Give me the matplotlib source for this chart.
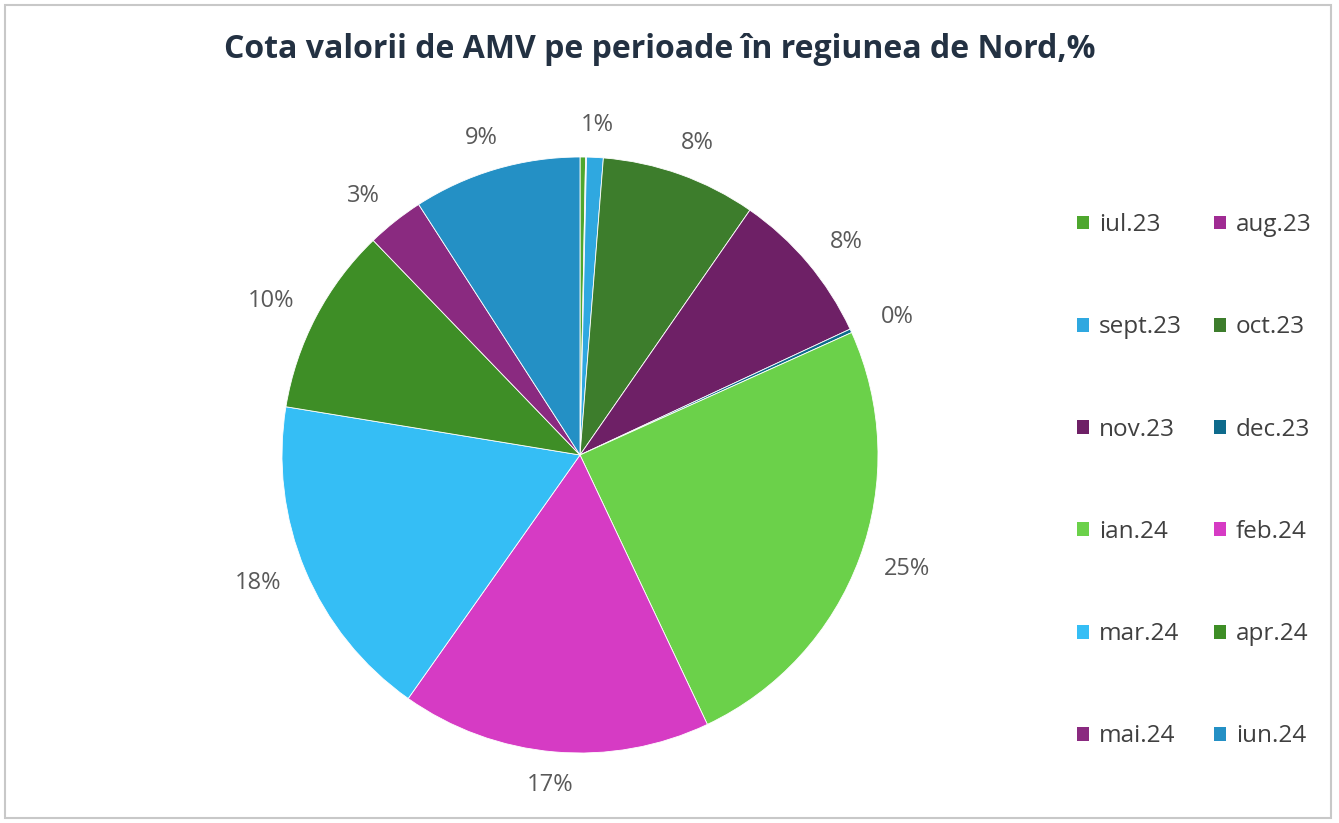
import numpy as np
import matplotlib
matplotlib.use('Agg')
import matplotlib.pyplot as plt
from matplotlib.patches import Rectangle, Patch

plt.rcParams['font.family'] = ['Open Sans', 'DejaVu Sans']

months = ['iul.23', 'aug.23', 'sept.23', 'oct.23', 'nov.23', 'dec.23',
          'ian.24', 'feb.24', 'mar.24', 'apr.24', 'mai.24', 'iun.24']
shares = [0.3, 0.05, 0.9, 8.4, 8.4, 0.2, 24.7, 16.8, 17.8, 10.2, 3.1, 9.1]
hidden = ['iul.23', 'aug.23']   # labels not shown in the original
colors = ['#4EA72E', '#A02B93', '#2FA8E0', '#3D7D2C', '#6E2066', '#0E6B8C',
          '#6BD14A', '#D63BC4', '#35BEF5', '#3E8E26', '#8A2A80', '#2490C5']

fig = plt.figure(figsize=(13.39, 8.23), dpi=100)

# frame around the chart
fig.patches.append(Rectangle((0.004, 0.006), 0.99, 0.988, transform=fig.transFigure,
                             fill=False, edgecolor='#C8C8C8', linewidth=1.5))

fig.text(0.493, 0.940, 'Cota valorii de AMV pe perioade în regiunea de Nord,%',
         ha='center', va='center', fontsize=23, fontweight='bold', color='#233142')

W, H = 1339., 823.
cx, cy, r = 580., 455., 298.
ax = fig.add_axes([(cx - r) / W, (H - cy - r) / H, 2 * r / W, 2 * r / H])
wedges, _ = ax.pie(shares, colors=colors, startangle=90, counterclock=False,
                   radius=1.0, wedgeprops=dict(edgecolor='white', linewidth=0.6))
ax.set_xlim(-1, 1)
ax.set_ylim(-1, 1)
ax.axis('off')

# data labels: box edge sits just outside the pie
total = sum(shares)
for w, m, v in zip(wedges, months, shares):
    if m in hidden:
        continue
    ang = np.deg2rad((w.theta1 + w.theta2) / 2.)
    x = (1.08 + 0.09) * np.cos(ang)
    y = (1.08 + 0.03) * np.sin(ang)
    ax.text(x, y, '{:.0f}%'.format(v / total * 100),
            ha='center', va='center', fontsize=17, color='#595959', clip_on=False)

# legend, row-wise order in two columns
handles = [Patch(facecolor=c, edgecolor='none') for c in colors]
order = list(range(0, 12, 2)) + list(range(1, 12, 2))
leg = fig.legend([handles[i] for i in order], [months[i] for i in order],
                 ncol=2, loc='upper left', bbox_to_anchor=(0.8043, 0.741),
                 frameon=False, fontsize=17.5, borderpad=0, borderaxespad=0,
                 handlelength=0.5, handleheight=0.5,
                 handletextpad=0.4, columnspacing=1.33, labelspacing=3.22)
for t in leg.get_texts():
    t.set_color('#404040')

fig.savefig('out.png', dpi=100)
